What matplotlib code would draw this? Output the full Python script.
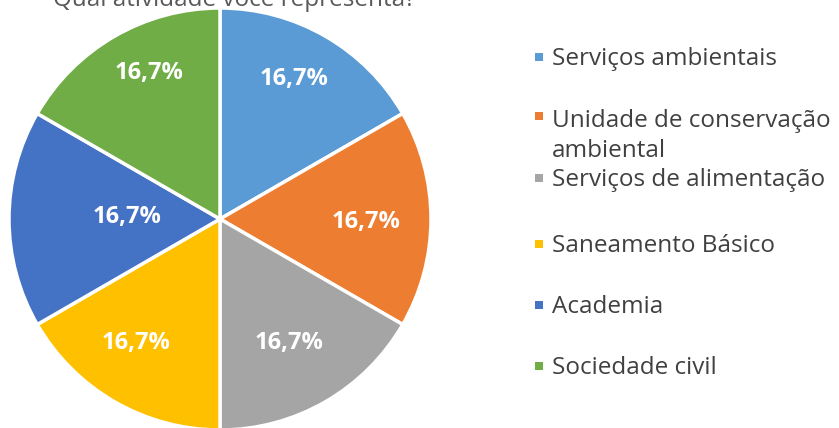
import matplotlib
matplotlib.use("Agg")
import matplotlib.pyplot as plt
from matplotlib.patches import Rectangle
import numpy as np

# data
labels = ["Serviços ambientais", "Unidade de conservação\nambiental",
          "Serviços de alimentação", "Saneamento Básico", "Academia", "Sociedade civil"]
values = [16.7, 16.7, 16.7, 16.7, 16.7, 16.7]
colors = ["#5B9BD5", "#ED7D31", "#A5A5A5", "#FFC000", "#4472C4", "#70AD47"]
title = "Qual atividade você representa?"

W, H = 839, 428
fig = plt.figure(figsize=(W / 100, H / 100), dpi=100)

# pie axes: centre (220, 219) px, radius 211 px
cx, cy, r = 220, 219, 211
ax = fig.add_axes([(cx - r) / W, (H - cy - r) / H, 2 * r / W, 2 * r / H])
wedges, texts, autotexts = ax.pie(
    values, colors=colors, startangle=90, counterclock=False,
    autopct=lambda p: f"{p:.1f}%".replace(".", ","), pctdistance=0.7,
    wedgeprops=dict(edgecolor="white", linewidth=2.5),
    textprops=dict(color="white", fontsize=17, fontweight="bold", family="Open Sans"))
ax.set_xlim(-1, 1)
ax.set_ylim(-1, 1)

# label placement like Excel's best fit (radius, angle in degrees)
label_pos = [(0.75, 62), (0.69, -1), (0.67, -61), (0.71, -124), (0.44, 179), (0.77, 116)]
for t, (rr, ang) in zip(autotexts, label_pos):
    a = np.deg2rad(ang)
    t.set_position((rr * np.cos(a), rr * np.sin(a)))

# title (cut off at top, as in the screenshot)
fig.text(234 / W, 1 - 6 / H, title, ha="center", va="baseline",
         fontsize=17.5, color="#595959", family="Open Sans")

# legend
leg_y = [59, 118, 180, 246, 307, 368]
for lab, col, y in zip(labels, colors, leg_y):
    fig.add_artist(Rectangle((535 / W, 1 - (y + 2) / H), 8 / W, 8 / H,
                             transform=fig.transFigure, color=col, lw=0))
    if "\n" in lab:
        fig.text(552 / W, 1 - (y - 9) / H, lab, ha="left", va="top",
                 fontsize=17.5, color="#404040", family="Open Sans", linespacing=1.33)
    else:
        fig.text(552 / W, 1 - y / H, lab, ha="left", va="center",
                 fontsize=17.5, color="#404040", family="Open Sans")

fig.savefig("out.png", dpi=100)
